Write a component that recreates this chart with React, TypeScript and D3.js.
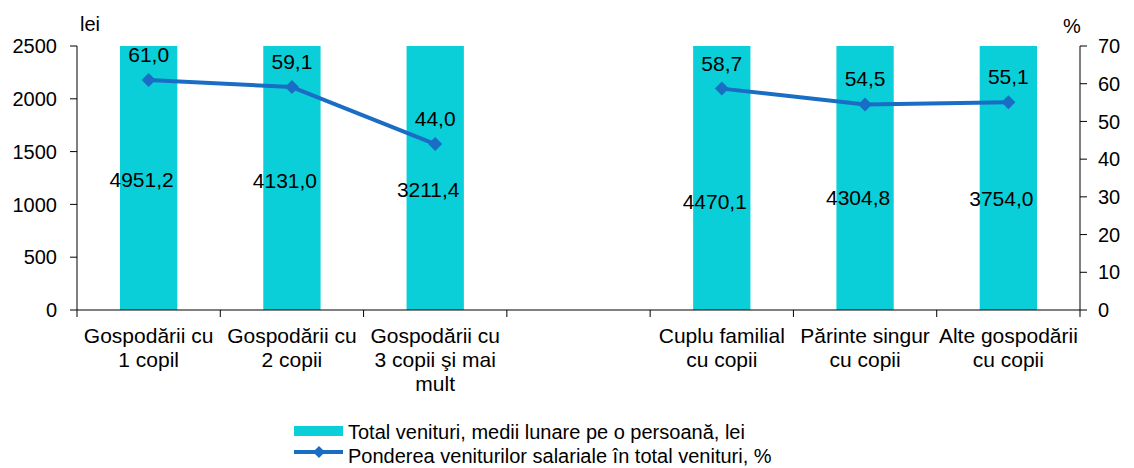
import * as d3 from 'd3';

const categories = [
  ['Gospodării cu', '1 copil'],
  ['Gospodării cu', '2 copii'],
  ['Gospodării cu', '3 copii şi mai', 'mult'],
  [],
  ['Cuplu familial', 'cu copii'],
  ['Părinte singur', 'cu copii'],
  ['Alte gospodării', 'cu copii'],
];
const venituri: (number | null)[] = [4951.2, 4131.0, 3211.4, null, 4470.1, 4304.8, 3754.0];
const ponderea: (number | null)[] = [61.0, 59.1, 44.0, null, 58.7, 54.5, 55.1];
// where Excel put the bar value labels (lei units, bars are clipped at 2500)
const barLabelAt = [1240, 1231, 1146, null, 1032, 1070, 1061];
const leftTicks = [0, 500, 1000, 1500, 2000, 2500];
const rightTicks = [0, 10, 20, 30, 40, 50, 60, 70];

const fmt = (v: number) => v.toFixed(1).replace('.', ',');

function App() {
  const width = 1134;
  const height = 468;
  const margin = { top: 46, right: 54, bottom: 158, left: 77 };
  const x0 = margin.left, x1 = width - margin.right;
  const y0 = height - margin.bottom, y1 = margin.top;

  const x = d3.scaleBand<number>()
    .domain(d3.range(categories.length))
    .range([x0, x1])
    .padding(0);
  const barW = x.bandwidth() * 0.4;
  const cx = (i: number) => (x(i) as number) + x.bandwidth() / 2;

  const yL = d3.scaleLinear().domain([0, 2500]).range([y0, y1]).clamp(true);
  const yLabel = d3.scaleLinear().domain([0, 2500]).range([y0, y1]);
  const yR = d3.scaleLinear().domain([0, 70]).range([y0, y1]);

  const line = d3.line<number | null>()
    .defined(d => d !== null)
    .x((_, i) => cx(i))
    .y(d => yR(d as number));

  const blue = '#1A6DC5';
  const cyan = '#0BCFD8';
  const font = '"Liberation Sans", Arial, sans-serif';
  const diamond = (px: number, py: number, r: number) =>
    `M${px},${py - r}L${px + r},${py}L${px},${py + r}L${px - r},${py}Z`;

  return (
    <svg width={width} height={height} style={{ position: 'absolute', left: 0, top: 0 }}
      fontFamily={font} fontSize={20} fill="#000">
      {venituri.map((v, i) => v === null ? null : (
        <rect key={i} x={cx(i) - barW / 2} y={yL(v)} width={barW} height={y0 - yL(v)} fill={cyan} />
      ))}

      {/* left axis */}
      <line x1={x0} x2={x0} y1={y1} y2={y0} stroke="#000" />
      {leftTicks.map(t => (
        <g key={t}>
          <line x1={x0 - 7} x2={x0} y1={yL(t)} y2={yL(t)} stroke="#000" />
          <text x={57} y={yL(t)} dy="0.36em" textAnchor="end">{t}</text>
        </g>
      ))}
      <text x={80} y={31}>lei</text>

      {/* right axis */}
      <line x1={x1} x2={x1} y1={y1} y2={y0} stroke="#000" />
      {rightTicks.map(t => (
        <g key={t}>
          <line x1={x1} x2={x1 + 7} y1={yR(t)} y2={yR(t)} stroke="#000" />
          <text x={1098} y={yR(t)} dy="0.36em">{t}</text>
        </g>
      ))}
      <text x={1063} y={33}>%</text>

      {/* x axis */}
      <line x1={x0} x2={x1} y1={y0} y2={y0} stroke="#000" />
      {d3.range(categories.length + 1).map(i => {
        const tx = i < categories.length ? (x(i) as number) : x1;
        return <line key={i} x1={tx} x2={tx} y1={y0} y2={y0 + 7} stroke="#000" />;
      })}
      {categories.map((lines, i) => (
        <text key={i} x={cx(i)} textAnchor="middle" fontSize={21}>
          {lines.map((l, j) => (
            <tspan key={j} x={cx(i)} y={343 + j * 24}>{l}</tspan>
          ))}
        </text>
      ))}

      {/* bar value labels */}
      {venituri.map((v, i) => v === null ? null : (
        <text key={i} x={cx(i) - 7} y={yLabel(barLabelAt[i] as number)}
          dy="0.36em" textAnchor="middle" fontSize={21}>{fmt(v)}</text>
      ))}

      {/* line series */}
      <path d={line(ponderea) || ''} fill="none" stroke={blue} strokeWidth={4} strokeLinejoin="round" />
      {ponderea.map((p, i) => p === null ? null : (
        <g key={i}>
          <path d={diamond(cx(i), yR(p), 7)} fill={blue} />
          <text x={cx(i)} y={yR(p) - 18} textAnchor="middle" fontSize={21}>{fmt(p)}</text>
        </g>
      ))}

      {/* legend */}
      <rect x={294} y={426} width={49} height={10} fill={cyan} />
      <text x={348} y={432} dy="0.36em">Total venituri, medii lunare pe o persoană, lei</text>
      <line x1={294} x2={343} y1={452} y2={452} stroke={blue} strokeWidth={4} />
      <path d={diamond(319, 452, 6)} fill={blue} />
      <text x={348} y={456} dy="0.36em">Ponderea veniturilor salariale în total venituri, %</text>
    </svg>
  );
}

export default App;
